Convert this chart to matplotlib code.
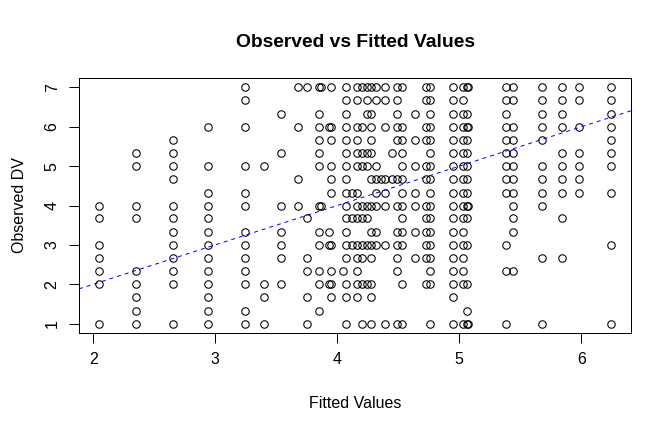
import numpy as np
import matplotlib as mpl
mpl.use('Agg')
import matplotlib.pyplot as plt

plt.rcParams['font.family'] = ['Liberation Sans', 'DejaVu Sans']

# fitted value of each column of points
fitted_cols = [2.05, 2.35, 2.65, 2.94, 3.24, 3.40, 3.54, 3.68, 3.75, 3.85, 3.87,
               3.93, 3.95, 4.05, 4.07, 4.12, 4.16, 4.20, 4.24, 4.28, 4.32, 4.36,
               4.39, 4.45, 4.49, 4.53, 4.64, 4.73, 4.76, 4.95, 5.03, 5.06, 5.07,
               5.38, 5.44, 5.68, 5.84, 5.98, 6.24]

# observed DV values seen in each column
observed_cols = [
    [4, 3.67, 3, 2.67, 2.33, 2, 1],
    [5.33, 5, 4, 3.67, 2.33, 2, 1.67, 1.33, 1],
    [5.67, 5.33, 5, 4.67, 4, 3.67, 3.33, 3, 2.67, 2.33, 2, 1],
    [6, 5, 4.33, 4, 3.67, 3.33, 3, 2.67, 2.33, 2, 1.67, 1.33, 1],
    [7, 6.67, 6, 5, 4.33, 4, 3.33, 3, 2.67, 2.33, 2, 1.33, 1],
    [5, 2, 1.67, 1],
    [6.33, 5.33, 4, 3.33, 3, 2.67, 2],
    [7, 6, 4.67, 4],
    [7, 3.67, 2.67, 2.33, 1.67, 1],
    [7, 6.33, 6, 5.67, 5.33, 5, 4, 3.33, 3, 2.33, 2, 1.33],
    [7, 4],
    [6, 3.33, 3, 2],
    [7, 6, 5.67, 5, 4.67, 4.33, 3, 2.33, 2, 1.67],
    [2.33],
    [7, 6.67, 6.33, 6, 5.67, 5.33, 5, 4.67, 4.33, 4, 3.67, 3.33, 3, 2.67, 2, 1.67, 1],
    [4.33, 3.67, 3],
    [7, 6.67, 6, 5.67, 5.33, 5, 4.33, 4, 3.67, 3, 2.67, 2.33, 2, 1.67],
    [7, 6, 5.33, 5, 4, 3.67, 3, 2.67, 2, 1],
    [7, 6.67, 6.33, 5.33, 5, 4, 3.67, 3, 2],
    [7, 6.33, 6, 5.67, 5.33, 4.67, 4, 3.33, 3, 2.67, 2, 1.67, 1],
    [7, 6.67, 5, 4.67, 4.33, 4, 3.33, 3],
    [4.67],
    [7, 6.67, 6, 4.67, 4.33, 4, 3, 1],
    [5.33, 4.67],
    [7, 6.67, 6.33, 6, 5.67, 4.67, 4, 3.33, 3, 2.67, 2.33, 1],
    [7, 6, 5.67, 5.33, 5, 4.67, 4.33, 4, 3.67, 3.33, 3, 2, 1],
    [6.33, 5.67, 5, 4.33, 4, 3.33, 2.67],
    [7, 6.67, 6, 5.67, 5, 4.67, 4, 3.67, 3.33, 3, 2.67, 2],
    [7, 6.67, 6.33, 6, 5.67, 5.33, 5, 4.67, 4.33, 4, 3.67, 3.33, 3, 2.67, 2.33, 2, 1],
    [7, 6.67, 6.33, 6, 5.67, 5.33, 5, 4.67, 4.33, 4, 3.67, 3.33, 3, 2.67, 2.33, 2, 1.67, 1],
    [7, 6.67, 6.33, 6, 5.67, 5.33, 5, 4.67, 4.33, 4, 3.67, 3.33, 3, 2.67, 2.33, 2, 1],
    [7, 6.33, 6, 5.67, 5.33, 5, 4.67, 4.33, 4, 3.67, 3, 2, 1.33, 1],
    [7, 6, 4, 1],
    [7, 6.67, 6.33, 6, 5.67, 5.33, 5, 4.67, 4.33, 3, 2.33, 1],
    [7, 6.67, 6, 5.67, 5.33, 5, 4.67, 4.33, 4, 3.67, 3.33, 2.33],
    [7, 6.67, 6.33, 6, 5.67, 5, 4.67, 4.33, 4, 2.67, 1],
    [7, 6.67, 6.33, 6, 5.33, 5, 4.67, 4.33, 3.67, 2.67],
    [7, 6.67, 6, 5.33, 5, 4.67, 4.33],
    [7, 6.67, 6.33, 6, 5.67, 5.33, 5, 4.33, 3, 1],
]

x_ticks = [2, 3, 4, 5, 6]
y_ticks = [1, 2, 3, 4, 5, 6, 7]


def r_range(vals):
    # base R style 4% padding
    lo, hi = min(vals), max(vals)
    pad = (hi - lo) * 0.04
    return lo - pad, hi + pad


fitted = np.concatenate([[f] * len(obs) for f, obs in zip(fitted_cols, observed_cols)])
observed = np.concatenate(observed_cols)

fig = plt.figure(figsize=(7, 4.5), dpi=96)
ax = fig.add_axes([79 / 672, 1 - 333 / 432, 552 / 672, 255 / 432])

ax.plot(fitted, observed, linestyle='none', marker='o', markersize=5.6,
        markerfacecolor='none', markeredgecolor='black', markeredgewidth=0.8)
ax.axline((0, 0), slope=1, color='blue', linewidth=0.75, dashes=(4, 4))

ax.set_xlim(*r_range(fitted))
ax.set_ylim(*r_range(y_ticks))
ax.set_xticks(x_ticks)
ax.set_yticks(y_ticks)
ax.tick_params(direction='out', length=7.5, width=0.75, labelsize=12, colors='black')
ax.tick_params(axis='x', pad=6.5)
ax.tick_params(axis='y', pad=7, labelrotation=90)
for lab in ax.get_yticklabels():
    lab.set_va('center')
for s in ax.spines.values():
    s.set_linewidth(0.75)

ax.set_title('Observed vs Fitted Values', fontsize=14.4, fontweight='bold', pad=23)
ax.set_xlabel('Fitted Values', fontsize=12)
ax.set_ylabel('Observed DV', fontsize=12)
ax.xaxis.set_label_coords(0.5, -0.247)
ax.yaxis.set_label_coords(-0.094, 0.5)

fig.savefig('out.png', dpi=96)
